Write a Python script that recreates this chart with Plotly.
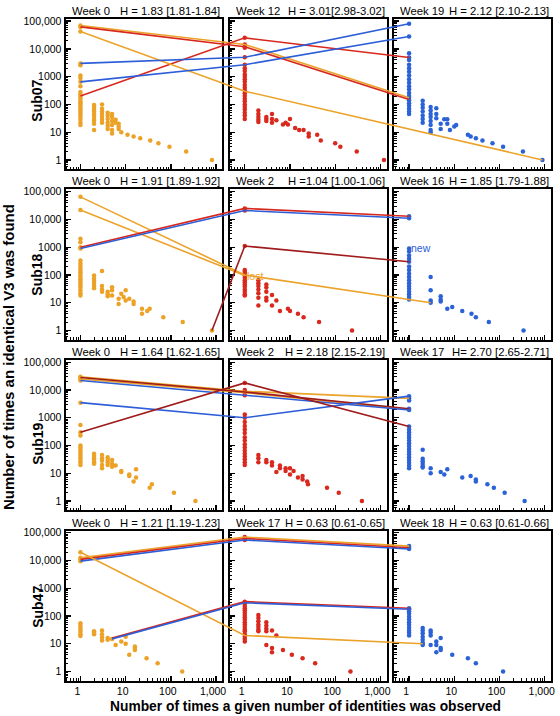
import math
import plotly.graph_objects as go

# ---------------- data ----------------
rows = ["Sub07", "Sub18", "Sub19", "Sub47"]
weeks = [["Week 0", "Week 12", "Week 19"],
         ["Week 0", "Week 2", "Week 16"],
         ["Week 0", "Week 2", "Week 17"],
         ["Week 0", "Week 17", "Week 18"]]
h_labels = [["H = 1.83 [1.81-1.84]", "H = 3.01[2.98-3.02]", "H = 2.12 [2.10-2.13]"],
            ["H = 1.91 [1.89-1.92]", "H =1.04 [1.00-1.06]", "H = 1.85 [1.79-1.88]"],
            ["H = 1.64 [1.62-1.65]", "H = 2.18 [2.15-2.19]", "H= 2.70 [2.65-2.71]"],
            ["H = 1.21 [1.19-1.23]", "H = 0.63 [0.61-0.65]", "H = 0.63 [0.61-0.66]"]]
x_tickvals = [1, 10, 100, 1000]
x_ticktext = ["1", "10", "100", "1,000"]
y_tickvals = [1, 10, 100, 1000, 10000, 100000]
y_ticktext = ["1", "10", "100", "1000", "10,000", "100,000"]

# each panel: x values and, for each x, the y values observed there
s07_w0_x = [1, 2, 3, 4, 5, 6, 7, 8, 11, 15, 21, 35, 53, 93, 218, 810]
s07_w0_y = [[70000, 62000, 42000, 3000, 2600, 1100, 900, 650, 450, 280, 230, 190, 160, 130, 110, 95, 80, 70, 60, 50, 42, 35, 28, 22, 18],
            [95, 80, 65, 55, 45, 38, 30, 25, 20, 12], [100, 70, 55, 45, 35, 28, 22], [50, 40, 30, 22, 17, 13],
            [45, 35, 25, 18, 12, 9], [28, 22], [20, 16, 13], [10], [8], [7], [6], [5], [4], [3], [2], [1]]
s07_w12_x = [1, 2, 3, 4, 5, 7, 8, 9, 10, 13, 16, 20, 26, 40, 48, 100, 130, 300, 1200]
s07_w12_y = [[25000, 14500, 12000, 11000, 5000, 2700, 2000, 1600, 1200, 1000, 800, 650, 500, 400, 320, 250, 200, 160, 130, 100, 80, 65, 50, 40, 30],
             [60, 45, 35, 28, 23], [35, 30, 25], [45, 30, 22], [27], [19], [22], [19], [30], [14], [12], [12],
             [9, 7], [8], [5], [4], [3], [2], [1]]
s07_w19_x = [1, 2, 3, 4, 5, 6, 7, 8, 10, 11, 20, 23, 30, 42, 70, 120, 330, 890]
s07_w19_y = [[80000, 28000, 7000, 4900, 4000, 2700, 2000, 1500, 1100, 800, 600, 450, 350, 260, 200, 170, 140, 110, 90, 70, 55, 45],
             [135, 100, 75, 55, 40, 30, 22], [80, 60, 45, 35, 25, 18, 12, 10], [72, 45, 32], [20, 13], [29], [29, 20],
             [12], [16], [18], [8], [7], [6], [5], [4], [3], [2], [1]]

s18_w0_x = [1, 2, 3, 4, 5, 7, 8, 9, 10, 12, 15, 23, 30, 34, 68, 183, 810]
s18_w0_y = [[65000, 22000, 2000, 1500, 1000, 900, 330, 260, 210, 170, 140, 120, 100, 85, 70, 60, 50, 42, 35, 28, 22, 18],
            [95, 75, 60, 48, 40, 33], [140, 40, 30, 25], [25, 20, 17], [36, 28, 18], [14, 9], [21], [16], [28, 12],
            [14], [11, 9], [6, 4], [5], [6], [3], [2], [1]]
s18_w2_x = [1, 2, 3, 4, 5, 6, 9, 10, 15, 20, 44, 236]
s18_w2_y = [[25000, 21000, 1100, 150, 130, 110, 95, 80, 65, 55, 45, 38, 30, 25, 20, 18],
            [65, 50, 40, 30, 22, 15, 8], [45, 35, 25, 15, 12], [19, 8], [12], [5], [6], [5], [4], [3], [2], [1]]
s18_w16_x = [1, 3, 5, 7, 9, 15, 24, 30, 58, 340]
s18_w16_y = [[13000, 11000, 900, 700, 500, 380, 300, 200, 150, 110, 85, 65, 50, 40, 32, 25, 20, 16, 13],
             [85, 28, 12, 10], [17, 13, 11], [6], [7], [5], [4], [3], [2], [1]]

s19_w0_x = [1, 2, 3, 4, 5, 6, 8, 12, 15, 17, 34, 38, 117, 350]
s19_w0_y = [[30000, 28000, 25000, 22000, 3500, 550, 300, 230, 100, 85, 70, 60, 50, 42, 35, 28, 24, 20],
            [50, 42, 35, 30, 25, 22], [45, 35, 28, 20, 15], [38, 30, 25, 20], [30, 22, 17], [19], [12, 11],
            [9, 8], [5], [14, 7], [3], [4], [2], [1]]
s19_w2_x = [1, 2, 3, 4, 5, 6, 8, 10, 12, 15, 19, 24, 25, 66, 120, 390]
s19_w2_y = [[18000, 10000, 9000, 8500, 8000, 6500, 1300, 1000, 700, 500, 380, 280, 200, 150, 110, 85, 65, 50, 40, 32, 25, 20],
            [45, 35, 25], [30, 25], [25, 19], [11], [19, 15], [15, 12], [9, 15], [12], [7], [6, 8], [5], [4],
            [3], [2], [1]]
s19_w17_x = [1, 2, 3, 5, 6, 7, 15, 23, 30, 54, 75, 130, 360]
s19_w17_y = [[6000, 5000, 4200, 2100, 1900, 480, 380, 300, 240, 190, 150, 120, 95, 75, 60, 48, 38, 30, 24, 19, 15],
             [70, 33, 27, 22, 18, 16], [15, 10], [11], [9], [14], [7], [8], [6, 5], [4], [3], [2], [1]]

s47_w0_x = [1, 2, 3, 4, 5, 6, 8, 10, 12, 16, 29, 51, 178]
s47_w0_y = [[20000, 12500, 11000, 9500, 55, 45, 38, 32, 27, 22, 19], [28, 25, 22], [30, 22, 17, 13], [16, 14],
            [15], [9], [12], [10, 18], [4], [8, 7, 6], [3], [2], [1]]
s47_w17_x = [1, 2, 3, 4, 5, 7, 11, 19, 36, 218]
s47_w17_y = [[70000, 62000, 55000, 330, 280, 230, 190, 160, 130, 110, 90, 75, 60, 50, 40, 33, 28, 22, 18, 15, 12],
             [110, 85, 65, 50, 40, 32, 28], [60, 45, 35, 28, 9], [30, 7, 5], [20], [6], [4], [3], [2], [1]]
s47_w18_x = [1, 2, 3, 4, 5, 9, 20, 30, 120]
s47_w18_y = [[33000, 29000, 26000, 190, 175, 150, 120, 95, 75, 60, 48, 38, 30, 25, 20],
             [37, 30, 24, 18, 14, 11, 10, 9], [30, 25, 20, 9], [12, 9, 5], [16, 7, 6], [4], [3], [2], [1]]

# tracked sequences: (colour, panel indices, x in panel, y in panel)
s07_tracks = [("orange", [0, 1, 2], [1, 1, 1], [70000, 14500, 175]),
              ("red", [0, 1, 2], [1, 1, 1], [62000, 12000, 150]),
              ("red", [0, 1, 2], [1, 1, 1], [200, 25000, 4900]),
              ("orange", [0, 1, 2], [1, 1, 890], [42000, 300, 1]),
              ("blue", [0, 1, 2], [1, 1, 1], [3000, 5000, 80000]),
              ("blue", [0, 1, 2], [1, 1, 1], [650, 2700, 28000])]
s18_tracks = [("orange", [0, 1, 2], [1, 1, 3], [65000, 100, 10]),
              ("orange", [0, 1], [1, 1], [22000, 95]),
              ("red", [0, 1, 2], [1, 1, 1], [1000, 25000, 13000]),
              ("blue", [0, 1, 2], [1, 1, 1], [900, 21000, 11000]),
              ("darkred", [0, 1, 2], [810, 1, 1], [1, 1100, 300])]
s19_tracks = [("orange", [0, 1, 2], [1, 1, 1], [30000, 9000, 5000]),
              ("orange", [0, 1, 2], [1, 1, 1], [25000, 8000, 2000]),
              ("darkred", [0, 1, 2], [1, 1, 1], [28000, 8500, 2100]),
              ("blue", [0, 1, 2], [1, 1, 1], [22000, 6500, 1900]),
              ("blue", [0, 1, 2], [1, 1, 1], [3500, 1000, 6000]),
              ("darkred", [0, 1, 2], [1, 1, 1], [300, 18000, 480])]
s47_tracks = [("orange", [0, 1, 2], [1, 1, 1], [12500, 70000, 33000]),
              ("red", [0, 1, 2], [1, 1, 1], [11000, 62000, 29000]),
              ("blue", [0, 1, 2], [1, 1, 1], [9500, 55000, 26000]),
              ("orange", [0, 1, 2], [1, 1, 2], [20000, 20, 10]),
              ("red", [0, 1, 2], [5, 1, 1], [16, 330, 190]),
              ("blue", [0, 1, 2], [5, 1, 1], [15, 300, 175])]

panels = [[(s07_w0_x, s07_w0_y), (s07_w12_x, s07_w12_y), (s07_w19_x, s07_w19_y)],
          [(s18_w0_x, s18_w0_y), (s18_w2_x, s18_w2_y), (s18_w16_x, s18_w16_y)],
          [(s19_w0_x, s19_w0_y), (s19_w2_x, s19_w2_y), (s19_w17_x, s19_w17_y)],
          [(s47_w0_x, s47_w0_y), (s47_w17_x, s47_w17_y), (s47_w18_x, s47_w18_y)]]
tracks = [s07_tracks, s18_tracks, s19_tracks, s47_tracks]

# ---------------- styling / layout ----------------
FW, FH = 560, 716
PANEL_LEFT = [66, 231.5, 397]
PANEL_STEP = 165.5
PANEL_W = 158
ROW_TOP = [15, 186.5, 358, 529.5]
ROW_H = 151
XR = [-0.33, 3.14]
YR = [-0.33, 5.08]
FONT = "Liberation Sans, Arial, sans-serif"
dot_colors = ["#ECA227", "#D9291F", "#2B62D8"]
line_colors = {"orange": "#EBA32A", "red": "#D8281E", "darkred": "#A01B1B", "blue": "#2D5ED8"}

px_per_dec = PANEL_W / (XR[1] - XR[0])
D = PANEL_STEP / px_per_dec
overlay_xr = [XR[0], XR[0] + (2 * PANEL_STEP + PANEL_W) / px_per_dec]

fig = go.Figure()
layout = {}
annotations = []


def xdom(l, w):
    return [l / FW, (l + w) / FW]


def ydom(t, h):
    return [1 - (t + h) / FH, 1 - t / FH]


for r in range(4):
    for c in range(3):
        p = r * 3 + c + 1
        xs, ys = panels[r][c]
        px, py = [], []
        for xv, col in zip(xs, ys):
            for yv in col:
                px.append(xv)
                py.append(yv)
        fig.add_trace(go.Scatter(x=px, y=py, mode="markers",
                                 marker=dict(size=4.5, color=dot_colors[c], line=dict(width=0)),
                                 xaxis=f"x{p}", yaxis=f"y{p}", showlegend=False, hoverinfo="skip"))
        sfx = "" if p == 1 else str(p)
        common = dict(showline=True, linewidth=2, linecolor="black", mirror=True,
                      ticks="inside", ticklen=5, tickwidth=1.3, tickcolor="black",
                      showgrid=False, zeroline=False, type="log",
                      tickfont=dict(family=FONT, size=10.5, color="black"),
                      minor=dict(ticks="inside", ticklen=2.5, tickwidth=1, tickcolor="black",
                                 dtick="D1", showgrid=False))
        layout["xaxis" + sfx] = dict(common, domain=xdom(PANEL_LEFT[c], PANEL_W), range=XR,
                                     anchor=f"y{p}", tickvals=x_tickvals, ticktext=x_ticktext,
                                     showticklabels=(r == 3), ticklabelshift=-3)
        layout["yaxis" + sfx] = dict(common, domain=ydom(ROW_TOP[r], ROW_H), range=YR,
                                     anchor=f"x{p}", tickvals=y_tickvals, ticktext=y_ticktext,
                                     showticklabels=(c == 0))
        # panel titles
        top_paper = 1 - ROW_TOP[r] / FH
        annotations.append(dict(text=weeks[r][c], xref="paper", yref="paper",
                                x=(PANEL_LEFT[c] + 4) / FW, y=top_paper, xanchor="left", yanchor="bottom",
                                showarrow=False, font=dict(family=FONT, size=11.3, color="black")))
        annotations.append(dict(text=h_labels[r][c], xref="paper", yref="paper",
                                x=(PANEL_LEFT[c] + PANEL_W) / FW, y=top_paper, xanchor="right",
                                yanchor="bottom", showarrow=False,
                                font=dict(family=FONT, size=11.3, color="black")))

    # overlay axes spanning the full row for the connecting lines
    o = 13 + r
    for name, panel_idx, xv, yv in tracks[r]:
        u = [k * D + math.log10(x) for k, x in zip(panel_idx, xv)]
        fig.add_trace(go.Scatter(x=u, y=yv, mode="lines",
                                 line=dict(color=line_colors[name], width=1.6),
                                 xaxis=f"x{o}", yaxis=f"y{o}", showlegend=False, hoverinfo="skip"))
    layout[f"xaxis{o}"] = dict(domain=xdom(PANEL_LEFT[0], 2 * PANEL_STEP + PANEL_W), range=overlay_xr,
                               visible=False, anchor=f"y{o}", type="linear", fixedrange=True)
    layout[f"yaxis{o}"] = dict(domain=ydom(ROW_TOP[r], ROW_H), range=YR, type="log",
                               visible=False, anchor=f"x{o}", fixedrange=True)

row_label_y = [97, 272, 442, 606]
for r in range(4):
    annotations.append(dict(text=f"<b>{rows[r]}</b>", xref="paper", yref="paper",
                            x=37.5 / FW, y=1 - row_label_y[r] / FH, textangle=-90,
                            xanchor="center", yanchor="middle", showarrow=False,
                            font=dict(family=FONT, size=14, color="black")))

annotations.append(dict(text="lost", xref="x5", yref="y5", x=0, y=math.log10(90), xanchor="left",
                        yanchor="middle", showarrow=False,
                        font=dict(family=FONT, size=10.5, color=line_colors["orange"])))
annotations.append(dict(text="new", xref="x6", yref="y6", x=0, y=math.log10(950), xanchor="left",
                        yanchor="middle", showarrow=False,
                        font=dict(family=FONT, size=10.5, color=line_colors["blue"])))
annotations.append(dict(text="<b>Number of times an identical V3 was found</b>", xref="paper", yref="paper",
                        x=8 / FW, y=1 - 355 / FH, textangle=-90, xanchor="center", yanchor="middle",
                        showarrow=False, font=dict(family=FONT, size=15, color="black")))
annotations.append(dict(text="<b>Number of times a given number of identities was observed</b>",
                        xref="paper", yref="paper", x=308 / FW, y=1 - 706 / FH, xanchor="center",
                        yanchor="middle", showarrow=False, font=dict(family=FONT, size=13.8, color="black")))

fig.update_layout(width=FW, height=FH, margin=dict(l=0, r=0, t=0, b=0),
                  paper_bgcolor="white", plot_bgcolor="rgba(0,0,0,0)",
                  annotations=annotations, showlegend=False, **layout)
fig.write_html("out.html", config={"displayModeBar": False, "staticPlot": True},
               post_script="document.body.style.margin='0px';"
                           "document.documentElement.style.overflow='hidden';"
                           "document.body.style.overflow='hidden';")
